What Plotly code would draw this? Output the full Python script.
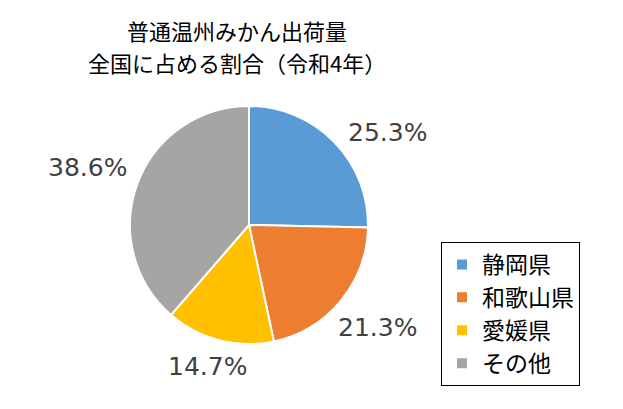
import math
import plotly.graph_objects as go

categories = ["静岡県", "和歌山県", "愛媛県", "その他"]
values = [25.3, 21.3, 14.7, 38.6]
colors = ["#5B9BD5", "#ED7D31", "#FFC000", "#A5A5A5"]
title_lines = ["普通温州みかん出荷量", "全国に占める割合（令和4年）"]

W, H = 623, 409
cx, cy, r = 249, 225, 119
FONT = "Noto Sans CJK JP"

fig = go.Figure()
fig.add_trace(go.Pie(
    labels=categories, values=values,
    marker=dict(colors=colors, line=dict(color="white", width=2)),
    sort=False, direction="clockwise", rotation=0,
    textinfo="none", hoverinfo="label+percent",
    domain=dict(x=[(cx - r) / W, (cx + r) / W], y=[1 - (cy + r) / H, 1 - (cy - r) / H]),
))

# percentage labels placed outside along slice mid-angles
total = sum(values)
cum = 0
factors = [1.40, 1.38, 1.24, 1.44]
angle_tweaks = [10.7, -0.8, 1.9, -0.8]
annotations = []
for v, f, da in zip(values, factors, angle_tweaks):
    mid = (cum + v / 2) / total * 2 * math.pi + math.radians(da)
    cum += v
    px = cx + f * r * math.sin(mid)
    py = cy - f * r * math.cos(mid)
    annotations.append(dict(
        x=px / W, y=1 - py / H, xref="paper", yref="paper",
        text=f"{v:.1f}%", showarrow=False,
        font=dict(family="DejaVu Sans", size=25, color="#404040"),
        xanchor="center", yanchor="middle",
    ))

for line, ty in zip(title_lines, [30, 62]):
    annotations.append(dict(
        x=237 / W, y=1 - ty / H, xref="paper", yref="paper",
        text=line, showarrow=False,
        font=dict(family=FONT, size=22, color="#000000"),
        xanchor="center", yanchor="middle",
    ))

fig.update_layout(
    width=W, height=H,
    margin=dict(l=0, r=0, t=0, b=0),
    paper_bgcolor="white", plot_bgcolor="white",
    annotations=annotations,
    showlegend=True,
    legend=dict(
        x=441 / W, y=1 - 242 / H, xanchor="left", yanchor="top",
        bordercolor="black", borderwidth=1,
        font=dict(family=FONT, size=23, color="#000000"),
        itemsizing="constant",
    ),
)

fig.write_html("out.html")
